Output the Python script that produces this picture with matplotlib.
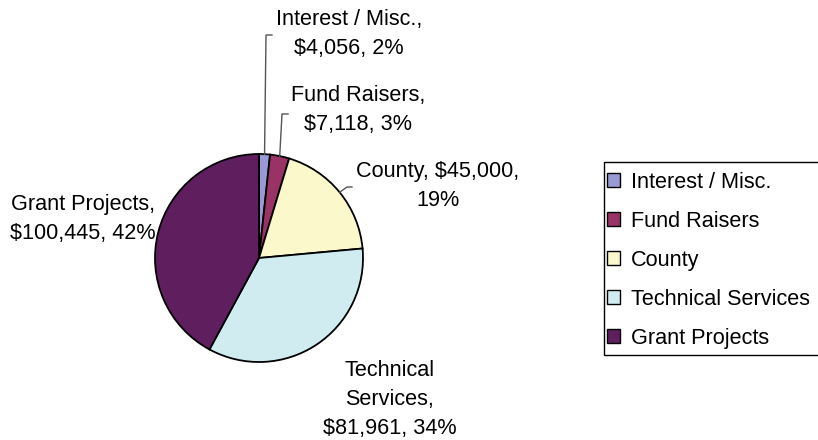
import numpy as np
import matplotlib
matplotlib.use('Agg')
import matplotlib.pyplot as plt
from matplotlib.patches import Rectangle

plt.rcParams['font.family'] = ['Liberation Sans', 'DejaVu Sans']

# data
categories = ['Interest / Misc.', 'Fund Raisers', 'County',
              'Technical Services', 'Grant Projects']
amounts = [4056, 7118, 45000, 81961, 100445]
percents = ['2%', '3%', '19%', '34%', '42%']
label_texts = ['Interest / Misc.,\n$4,056, 2%',
               'Fund Raisers,\n$7,118, 3%',
               'County, $45,000,\n19%',
               'Technical\nServices,\n$81,961, 34%',
               'Grant Projects,\n$100,445, 42%']
colors = ['#9999d4', '#993366', '#fbf8cc', '#d0ecf0', '#5f1f5f']

W, H = 818, 440
center = (259, H - 258)
radius = 104
FS = 15.6

# label anchors (pixel coords, y measured from top) and leader elbows
label_pos = [(349, 34), (358, 110), (438, 186), (390, 399), (83, 219)]
elbows = [(266, 35, 272), (282, 114, 288), (347, 187, 352), None, None]

fig = plt.figure(figsize=(W / 100, H / 100), dpi=100)
ax = fig.add_axes([0, 0, 1, 1])

wedges, _ = ax.pie(amounts, colors=colors, startangle=90, counterclock=False,
                   center=center, radius=radius, frame=True,
                   wedgeprops=dict(edgecolor='black', linewidth=1.3))

# leader lines from wedge mid-angle to label
total = float(sum(amounts))
cum = np.cumsum([0] + amounts)
for i, el in enumerate(elbows):
    if el is None:
        continue
    mid = 90 - 360 * (cum[i] + amounts[i] / 2) / total
    sx = center[0] + radius * np.cos(np.radians(mid))
    sy = center[1] + radius * np.sin(np.radians(mid))
    ex, ey, hx = el
    ax.plot([sx, ex, hx], [sy, H - ey, H - ey], color='#555555', lw=1.0,
            solid_joinstyle='miter')

for txt, (x, y) in zip(label_texts, label_pos):
    ax.text(x, H - y, txt, ha='center', va='center', fontsize=FS,
            linespacing=1.5)

ax.set_xlim(0, W)
ax.set_ylim(0, H)
ax.set_aspect('equal')
ax.axis('off')

# legend box (runs off the right edge like the original)
ax.add_patch(Rectangle((604, H - 355), 240, 193, facecolor='white',
                       edgecolor='black', lw=1.0, clip_on=False, zorder=2))
leg = ax.legend(wedges, categories, loc='upper left',
                bbox_to_anchor=(607 / W, 1 - 172 / H),
                bbox_transform=fig.transFigure, fontsize=FS,
                frameon=False, handlelength=0.6, handleheight=0.6,
                handletextpad=0.5, labelspacing=0.83, borderpad=0,
                borderaxespad=0)
leg.set_zorder(3)
for h in leg.legend_handles:
    h.set_linewidth(1.0)

fig.savefig('out.png', dpi=100)
